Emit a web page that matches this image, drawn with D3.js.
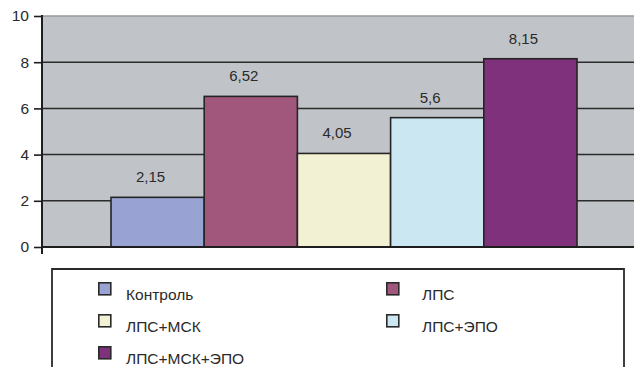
<!DOCTYPE html>
<html>
<head>
<meta charset="utf-8">
<script src="https://cdn.jsdelivr.net/npm/d3@7"></script>
<style>
  html, body { margin: 0; padding: 0; background: #fff; }
  svg { display: block; }
  text { font-family: "Liberation Sans", Arial, sans-serif; fill: #2a2a2a; }
</style>
</head>
<body>
<svg id="chart" width="634" height="367"></svg>
<script>
// Groups and their measured values
const groups = ["Контроль", "ЛПС", "ЛПС+МСК", "ЛПС+ЭПО", "ЛПС+МСК+ЭПО"];
const values = [2.15, 6.52, 4.05, 5.6, 8.15];
const valueLabels = ["2,15", "6,52", "4,05", "5,6", "8,15"];
const colors = ["#99a3d3", "#a1567b", "#f3f1d3", "#cbe7f2", "#7f317b"];
const yTicks = [0, 2, 4, 6, 8, 10];

const svg = d3.select("#chart");

const plot = { left: 42, right: 634, top: 16, bottom: 247 };

const y = d3.scaleLinear().domain([0, 10]).range([plot.bottom, plot.top]);
const x = d3.scaleBand().domain(groups).range([111, 577]).padding(0);

// plot background
svg.append("rect")
  .attr("x", plot.left).attr("y", plot.top)
  .attr("width", plot.right - plot.left).attr("height", plot.bottom - plot.top)
  .attr("fill", "#c0c4c9");

// horizontal gridlines
svg.append("g").selectAll("line")
  .data(yTicks.filter(t => t > 0))
  .join("line")
  .attr("x1", plot.left).attr("x2", plot.right)
  .attr("y1", d => y(d)).attr("y2", d => y(d))
  .attr("stroke", d => d === 10 ? "#9a9a9a" : "#2b2b2b")
  .attr("stroke-width", 1.5);

// bars
svg.append("g").selectAll("rect")
  .data(groups)
  .join("rect")
  .attr("x", d => x(d))
  .attr("width", x.bandwidth())
  .attr("y", (d, i) => y(values[i]))
  .attr("height", (d, i) => y(0) - y(values[i]))
  .attr("fill", (d, i) => colors[i])
  .attr("stroke", "#252525")
  .attr("stroke-width", 1.6);

// value labels
svg.append("g").selectAll("text")
  .data(groups)
  .join("text")
  .attr("x", d => x(d) + x.bandwidth() / 2 - 7)
  .attr("y", (d, i) => y(values[i]) - 15)
  .attr("text-anchor", "middle")
  .attr("font-size", 15)
  .text((d, i) => valueLabels[i]);

// y axis
const yAxis = d3.axisLeft(y).tickValues(yTicks).tickSize(8).tickPadding(5).tickFormat(d3.format("d"));
const gy = svg.append("g")
  .attr("transform", `translate(${plot.left},0)`)
  .call(yAxis);
gy.select(".domain").remove();
gy.selectAll(".tick line").attr("stroke", "#1e1e1e").attr("stroke-width", 1.6);
gy.selectAll(".tick text").attr("font-size", 15.5).attr("fill", "#2a2a2a")
  .attr("font-family", "'Liberation Sans', Arial, sans-serif");
svg.append("line")
  .attr("x1", plot.left).attr("x2", plot.left)
  .attr("y1", plot.top - 1).attr("y2", 254)
  .attr("stroke", "#1e1e1e").attr("stroke-width", 2);

// x axis baseline
svg.append("line")
  .attr("x1", plot.left).attr("x2", plot.right)
  .attr("y1", y(0)).attr("y2", y(0))
  .attr("stroke", "#1e1e1e").attr("stroke-width", 2);

// legend frame
svg.append("path")
  .attr("d", "M52,372 L52,269 L624,269 L624,372")
  .attr("fill", "none")
  .attr("stroke", "#2a2a2a")
  .attr("stroke-width", 1.8);

// legend entries: two columns
const legendCols = [{ sx: 98, tx: 126 }, { sx: 386, tx: 422 }];
const legendRows = [282, 314, 346];
const legend = svg.append("g").selectAll("g")
  .data(groups)
  .join("g")
  .attr("transform", (d, i) => `translate(${legendCols[i % 2].sx},${legendRows[Math.floor(i / 2)]})`);

legend.append("rect")
  .attr("x", 0.8).attr("y", 0.8)
  .attr("width", 12).attr("height", 12)
  .attr("fill", (d, i) => colors[i])
  .attr("stroke", "#2a2a2a")
  .attr("stroke-width", 1.6);

legend.append("text")
  .attr("x", (d, i) => legendCols[i % 2].tx - legendCols[i % 2].sx)
  .attr("y", 18)
  .attr("font-size", 15.5)
  .text(d => d);
</script>
</body>
</html>
